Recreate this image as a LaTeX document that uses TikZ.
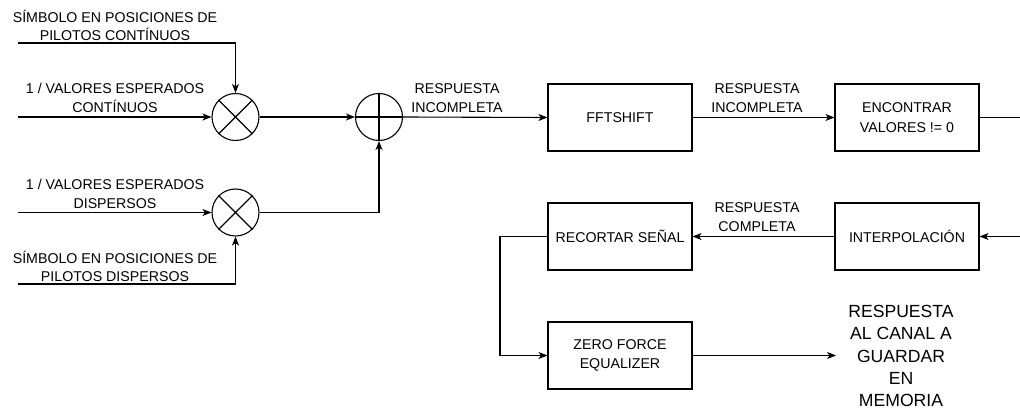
\documentclass[tikz,border=0pt]{standalone}
\usepackage{fontspec}
\setmainfont{Liberation Sans}
\usetikzlibrary{arrows.meta}
\begin{document}
\begin{tikzpicture}[x=1pt,y=-1pt,
  line width=1.1pt,
  arr/.style={-{Stealth[length=9pt,width=7pt,inset=2.5pt]}},
  op/.style={circle,draw,minimum size=47pt,inner sep=0pt},
  blk/.style={draw,minimum width=144pt,minimum height=67pt,inner sep=0pt,align=center,font=\fontsize{14.2}{19.5}\selectfont},
  lbl/.style={align=center,inner sep=0pt,font=\fontsize{14.2}{18.5}\selectfont},
  big/.style={align=center,inner sep=0pt,font=\fontsize{17.6}{22.3}\selectfont}]
\useasboundingbox (0,0) rectangle (1020,411);
% operators
\node[op] (m1) at (235.5,117) {};
\node[op] (s1) at (379,117) {};
\node[op] (m2) at (235.5,212.5) {};
\draw (m1.north west) -- (m1.south east) (m1.north east) -- (m1.south west);
\draw (m2.north west) -- (m2.south east) (m2.north east) -- (m2.south west);
\draw (s1.north) -- (s1.south) (s1.west) -- (s1.east);
% inputs
\coordinate (in1a) at (18,43);
\coordinate (in1b) at (18,117);
\coordinate (in2a) at (18,212.5);
\coordinate (in2b) at (18,284);
\node[lbl] (t1a) at (115,25.5) {SÍMBOLO EN POSICIONES DE\\PILOTOS CONTÍNUOS};
\node[lbl] (t1b) at (115,98) {1 / VALORES ESPERADOS\\CONTÍNUOS};
\node[lbl] (t2a) at (115,194) {1 / VALORES ESPERADOS\\DISPERSOS};
\node[lbl] (t2b) at (115,266.5) {SÍMBOLO EN POSICIONES DE\\PILOTOS DISPERSOS};
\draw[arr] (in1a) -| (m1.north);
\draw[arr] (in1b) -- (m1.west);
\draw[arr] (in2a) -- (m2.west);
\draw[arr] (in2b) -| (m2.south);
\draw[arr] (m1.east) -- (s1.west);
\draw[arr] (m2.east) -| (s1.south);
% blocks
\node[blk] (fft) at (620,117.5) {FFTSHIFT};
\node[blk] (enc) at (907,117.5) {ENCONTRAR\\VALORES != 0};
\node[blk] (itp) at (907,236.5) {INTERPOLACIÓN};
\node[blk] (rec) at (620,236.5) {RECORTAR SEÑAL};
\node[blk] (zf) at (620,355.5) {ZERO FORCE\\EQUALIZER};
\node[lbl] (r1) at (457,98) {RESPUESTA\\INCOMPLETA};
\node[lbl] (r2) at (757,98) {RESPUESTA\\INCOMPLETA};
\node[lbl] (r3) at (757,217) {RESPUESTA\\COMPLETA};
\draw[arr] (s1.east) -- (fft.west);
\draw[arr] (fft.east) -- (enc.west);
\coordinate (e1) at (1020,117.5);
\coordinate (e2) at (1020,236.5);
\draw (enc.east) -- (e1);
\draw[arr] (e2) -- (itp.east);
\draw[arr] (itp.west) -- (rec.east);
\coordinate (c1) at (500,236.5);
\draw[arr] (rec.west) -- (c1) |- (zf.west);
\coordinate (o1) at (836,355.5);
\draw[arr] (zf.east) -- (o1);
\node[big] (out) at (901,356) {RESPUESTA\\AL CANAL A\\GUARDAR\\EN\\MEMORIA};
\end{tikzpicture}
\end{document}
